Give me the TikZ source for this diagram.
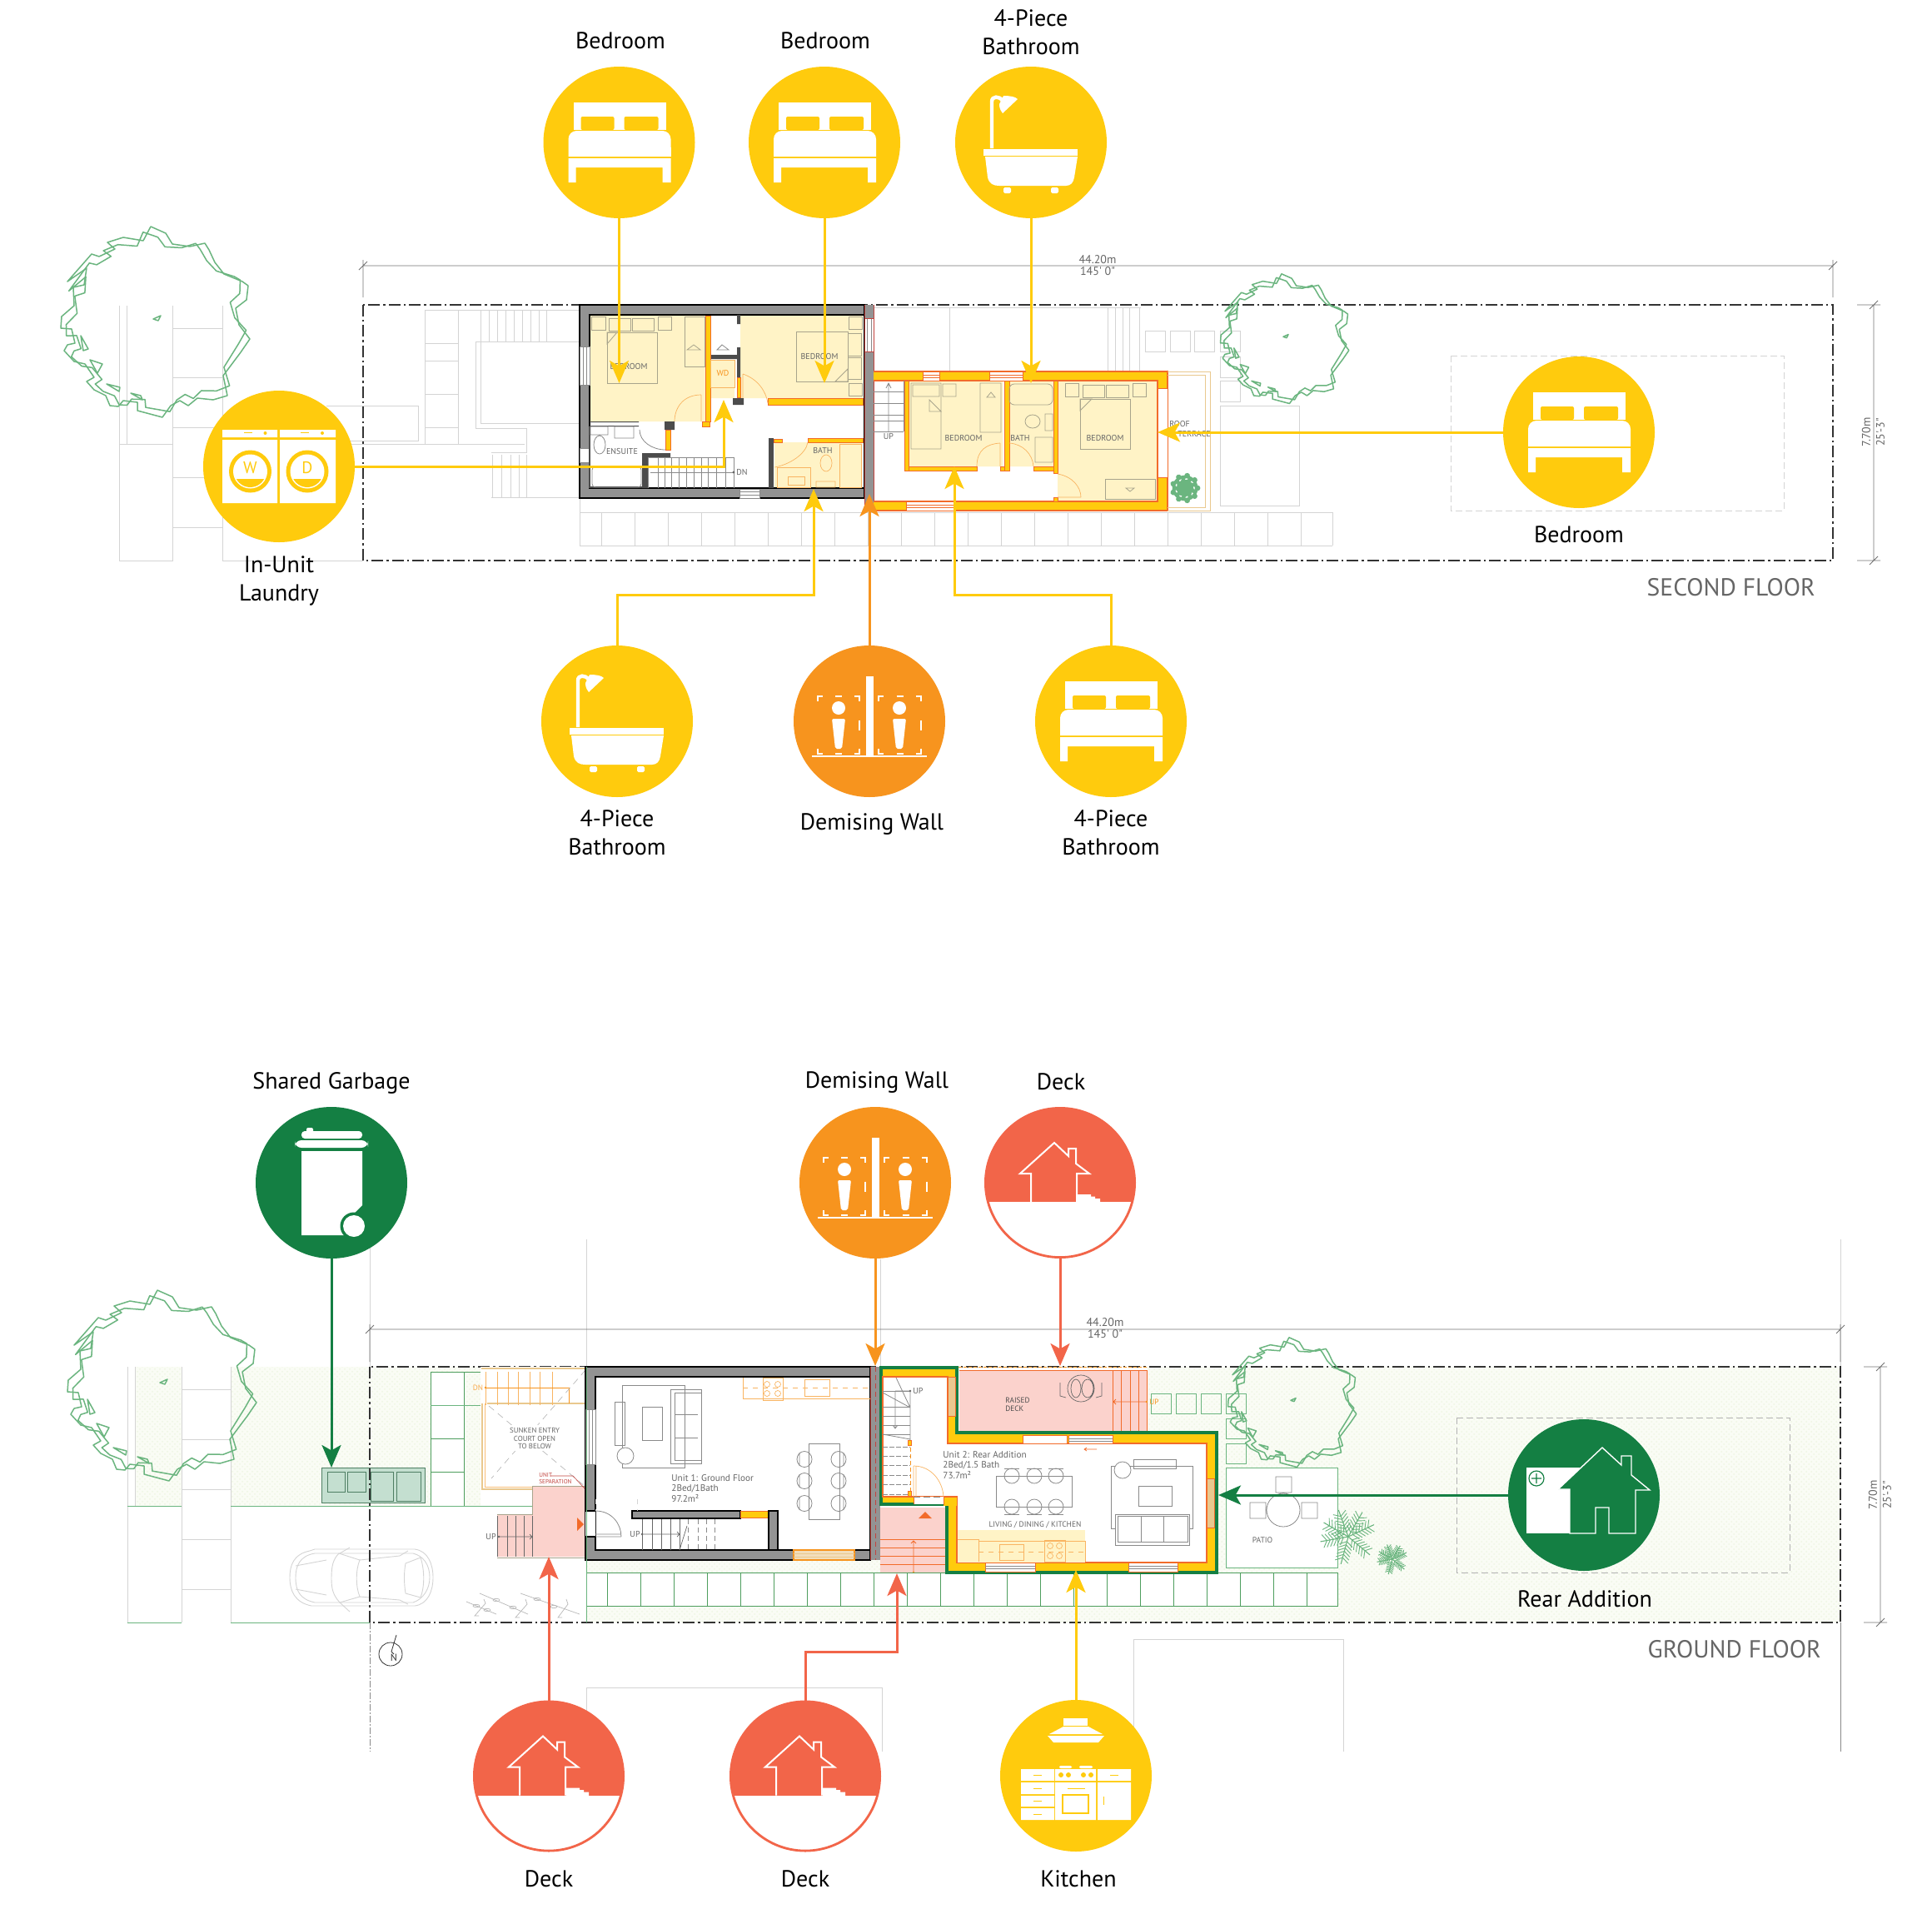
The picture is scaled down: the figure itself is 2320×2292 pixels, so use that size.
\documentclass[tikz,border=0pt]{standalone}
\usepackage{fontspec}
\setmainfont{PT Sans}
\newfontfamily\dinf{PT Sans}
\usetikzlibrary{arrows.meta,patterns}
\definecolor{cyel}{HTML}{FFCB0D}
\definecolor{cora}{HTML}{F7941E}
\definecolor{cdor}{HTML}{F26B2A}
\definecolor{ccor}{HTML}{F26549}
\definecolor{cgrn}{HTML}{147F43}
\definecolor{ctre}{HTML}{6BB57F}
\definecolor{cpav}{HTML}{4E9E5E}
\definecolor{cwal}{HTML}{939393}
\definecolor{cctx}{HTML}{D4D4D4}
\definecolor{cpal}{HTML}{FFF3C6}
\definecolor{cpnk}{HTML}{FBD2CC}
\definecolor{cgar}{HTML}{FAFCF5}
\definecolor{cgdt}{HTML}{EFF6E3}
\definecolor{cfur}{HTML}{A8A48C}
\definecolor{cgry}{HTML}{8A8A8A}
\definecolor{ctxt}{HTML}{666666}
\definecolor{cred}{HTML}{C1443F}
\definecolor{ctan}{HTML}{E9C88E}
\tikzset{
 lab/.style={inner sep=0pt,align=center,font=\fontsize{14}{17}\selectfont},
 ptext/.style={inner sep=0pt,align=left,text=ctxt,font=\dinf\fontsize{5}{5.6}\selectfont},
 dimt/.style={inner sep=0pt,align=center,text=ctxt,font=\dinf\fontsize{7}{7.6}\selectfont},
 flr/.style={inner sep=0pt,anchor=east,text=ctxt,font=\dinf\fontsize{14.8}{16}\selectfont},
 circ/.style={circle,minimum size=91pt,inner sep=0pt,fill=#1},
 ctx/.style={draw=cctx,line width=.45pt},
 plot/.style={draw=black!80,line width=.85pt,dash pattern=on 7pt off 2pt on 1.2pt off 2pt},
 dim/.style={draw=black!55,line width=.4pt},
 wall/.style={fill=cwal,draw=black,line width=.6pt},
 ywall/.style={fill=cyel,draw=cdor,line width=.5pt},
 win/.style={fill=white,draw=cgry,line width=.3pt},
 fur/.style={draw=cfur,line width=.4pt},
 gfur/.style={draw=cgry,line width=.4pt},
 ofur/.style={draw=cora!70,line width=.35pt},
 treel/.style={draw=ctre,line width=.75pt,line join=round},
 pav/.style={draw=cpav,line width=.5pt},
 arr/.style={draw=#1,line width=1.5pt,-{Stealth[length=13.5pt,width=11.5pt,inset=3.2pt]}},
}
\newcommand\treepath{(-6,-115)--(12,-107)--(20,-94)--(41,-91)--(59,-95)--(64,-87)--(71,-72)--(82,-58)--(104,-49)--(111,-44)--(109,-27)--(96,-17)--(100,3)--(113,20)--(102,36)--(81,64)--(86,88)--(69,93)--(50,91)--(39,100)--(29,94)--(18,100)--(8,114)--(-22,106)--(-22,96)--(-39,94)--(-45,101)--(-55,100)--(-60,88)--(-74,81)--(-83,71)--(-74,66)--(-85,50)--(-98,47)--(-110,34)--(-106,27)--(-97,25)--(-101,8)--(-114,7)--(-113,-7)--(-98,-20)--(-99,-42)--(-86,-45)--(-83,-65)--(-106,-49)--(-77,-82)--(-68,-79)--(-49,-88)--(-58,-96)--(-39,-102)--(-15,-98)--cycle}
\newcommand\treeshape[3]{\begin{scope}[shift={(#1,#2)},scale=#3]
 \draw[treel] \treepath;
 \draw[treel,rotate=5,scale=.95] \treepath;
 \draw[treel] (-3,-4)--(6,-8)--(3,-2)--cycle (-90,16)--(-81,32)--(-87,34)--cycle (-79,45)--(-64,50)--(-70,61)--cycle (-59,74)--(-43,78)--(-44,83)--cycle (-30,85)--(-18,88)--(-16,93)--cycle;
\end{scope}}
\newcommand\fern[3]{\begin{scope}[shift={(#1,#2)},scale=#3]
 \foreach \a in {-170,-105,-40,25,60,110,150}{\begin{scope}[rotate=\a]
  \draw[ctre,line width=.55pt] (0,0)--(34,0);
  \foreach \t in {6,10,...,28}{\draw[ctre,line width=.45pt] (\t,0)--(\t+5,8) (\t,0)--(\t+5,-8);}
 \end{scope}}
\end{scope}}
\newcommand\leafy[2]{\begin{scope}[shift={(#1,#2)}]
 \foreach \a in {0,40,...,320}{\fill[ctre,rotate=\a] (15,0) circle (3.4) (12,4) circle (2.8) (12,-4) circle (2.8) (7,2) circle (4);}
 \fill[ctre] (0,0) circle (5);
\end{scope}}
% icons
\newcommand\icoBed[1]{\begin{scope}[shift={(#1.center)}]
 \fill[white] (-55,-48) rectangle (56,-15);
 \fill[cyel,rounded corners=1pt] (-46,-31) rectangle (-6,-15) (6,-31) rectangle (47,-15);
 \fill[white,rounded corners=5pt] (-61,17)--(-61,-14)--(62,-14)--(62,17);
 \fill[white] (-61,6) rectangle (62,17);
 \fill[white] (-61,19) rectangle (62,30) (-61,30) rectangle (-52,48) (52,30) rectangle (62,48);
\end{scope}}
\newcommand\icoTub[1]{\begin{scope}[shift={(#1.center)}]
 \draw[white,line width=2.2pt] (-47,7)--(-47,-49) .. controls (-47,-56) and (-38,-56) .. (-34,-50);
 \fill[white] (-33,-56)..controls (-25,-56) and (-19,-55) ..(-16,-52)--(-34,-35)..controls (-38,-40) and (-38,-44) .. (-38,-46)--cycle;
 \fill[white] (-57,8) rectangle (56,16);
 \fill[white] (-55,17)--(-52,42)..controls (-50,50) and (-45,52) .. (-38,52)--(42,52)..controls (48,52) and (51,48) .. (52,42)--(56,17)--cycle;
 \fill[white,rounded corners=.8pt] (-33,54) rectangle (-24,61) (24,54) rectangle (33,61);
\end{scope}}
\newcommand\icoWash[1]{\begin{scope}[shift={(#1.center)}]
 \fill[white] (-68,-44) rectangle (-2,-35) (-68,-32) rectangle (-2,44) (1,-44) rectangle (68,-35) (1,-32) rectangle (68,44);
 \foreach \cx/\ltt in {-34.5/W,34/D}{
  \fill[cyel] (\cx,6) circle (25.5);
  \fill[white] (\cx,6) circle (20.5);
  \begin{scope}\clip (\cx,6) circle (19);
   \fill[cyel] (\cx-20,15) rectangle (\cx+20,28);
  \end{scope}
  \fill[cyel] (\cx-8,-41) rectangle (\cx+2,-39.6);
  \fill[cyel] (\cx+18,-40) circle (2);
  \node[inner sep=0pt,text=cyel,font=\fontsize{10}{10}\selectfont] (lt\ltt) at (\cx,2) {\ltt};
 }
\end{scope}}
\newcommand\dbox[4]{%
 \draw[white,line width=1.1pt] (#1,#2+6)--(#1,#2)--(#1+6,#2) (#3-6,#2)--(#3,#2)--(#3,#2+6) (#1,#4-6)--(#1,#4)--(#1+6,#4) (#3-6,#4)--(#3,#4)--(#3,#4-6)
 ({(#1+#3)/2-4},#2)--({(#1+#3)/2+4},#2) ({(#1+#3)/2-4},#4)--({(#1+#3)/2+4},#4) (#3,{(#2+#4)/2-6})--(#3,{(#2+#4)/2+6}) ;}
\newcommand\icoWall[1]{\begin{scope}[shift={(#1.center)}]
 \fill[white] (-4,-54) rectangle (5,42);
 \fill[white] (-69,41) rectangle (69,43);
 \foreach \cx in {-37,36}{
  \fill[white] (\cx,-16) circle (8);
  \fill[white,rounded corners=1pt] (\cx-8,-3)--(\cx+8,-3)--(\cx+4,33)--(\cx-4,33)--cycle;
 }
 \dbox{-62}{-30}{-12}{39}
 \dbox{11}{-30}{62}{39}
\end{scope}}
\newcommand\icoDeck[1]{\begin{scope}[shift={(#1.center)}]
 \begin{scope}\clip (0,0) circle (90);
  \fill[ccor] (-91,-91) rectangle (91,23);
 \end{scope}
 \draw[white,line width=1pt,line join=miter] (-35,23)--(-35,-11)--(-48,-11)--(-7,-48)--(10,-32)--(10,-41)--(19,-41)--(19,-23)--(35,-11)--(20,-11)--(20,23);
 \fill[white] (21,14)--(37,14)--(37,16.5)--(42,16.5)--(42,19)--(48,19)--(48,24)--(21,24)--cycle;
\end{scope}}
\newcommand\icoRear[1]{\begin{scope}[shift={(#1.center)}]
 \fill[white] (-69,-33) rectangle (-4,46);
 \fill[cgrn] (-17,46)--(-17,-7)--(-31,-7)--(22,-57)--(45,-36)--(45,-47)--(57,-47)--(57,-24)--(79,-6)--(62,-6)--(62,46)--(30,46)--(30,15)--(14,15)--(14,46)--cycle;
 \draw[white,line width=.7pt] (-17,46)--(-17,-7)--(-31,-7)--(22,-57)--(45,-36)--(45,-47)--(57,-47)--(57,-24)--(79,-6)--(62,-6)--(62,46)--(30,46)--(30,15)--(14,15)--(14,46)--cycle;
 \draw[cgrn,line width=.6pt] (-57,-20) circle (9) (-57,-26)--(-57,-14) (-63,-20)--(-51,-20);
\end{scope}}
\newcommand\icoBin[1]{\begin{scope}[shift={(#1.center)}]
 \fill[white,rounded corners=1pt] (-30,-66) rectangle (-22,-60);
 \fill[white,rounded corners=2pt] (-36,-62) rectangle (37,-53);
 \fill[white,rounded corners=4pt] (-44,-51) rectangle (44,-42);
 \fill[white] (-36,-38)--(37,-38)--(37,27)--(24,40)--(24,63)--(-36,63)--cycle;
 \fill[cgrn] (27,52) circle (16.5);
 \fill[white] (27,52) circle (13);
\end{scope}}
\newcommand\icoKit[1]{\begin{scope}[shift={(#1.center)}]
 \fill[white] (-15,-69) rectangle (14,-60);
 \fill[white] (-15,-59)--(15,-59)--(32,-50)--(-32,-50)--cycle;
 \fill[white] (-34,-48)--(34,-48)--(27,-40)--(-27,-40)--cycle;
 \fill[white] (-66,-8) rectangle (-26,6) (-66,8) rectangle (-26,22) (-66,24) rectangle (-26,37) (-66,39) rectangle (-26,53);
 \fill[white] (-25,-8) rectangle (24,6) (-25,8) rectangle (24,53);
 \fill[white] (26,-8) rectangle (66,6) (26,8) rectangle (66,53);
 \fill[white,rounded corners=1pt] (-20,-12) rectangle (-5,-9) (4,-12) rectangle (20,-9);
 \foreach \yy in {-1,15,30,46}{\fill[cyel] (-51,\yy-.4) rectangle (-41,\yy+.4);}
 \foreach \xx in {-18,-9,9,18}{\fill[cyel] (\xx,-1) circle (3);}
 \fill[cyel] (-10,14.6) rectangle (11,15.4);
 \draw[cyel,line width=1pt] (-16,23) rectangle (15,45);
 \fill[cyel] (41,-1.4) rectangle (51,-.6);
 \fill[cyel] (32.6,25) rectangle (33.4,35);
\end{scope}}
\newcommand\stairsV[6]{\foreach \xx in {#1}{\draw[#6] (\xx,#2)--(\xx,#3);}}
\newcommand\stairsH[6]{\foreach \yy in {#1}{\draw[#6] (#2,\yy)--(#3,\yy);}}
\begin{document}
\begin{tikzpicture}[x=.5pt,y=-.5pt]
\useasboundingbox (0,0) rectangle (2320,2292);
\fill[white] (0,0) rectangle (2320,2292);
%%%%%%%%%%%%%%%%%%% SECOND FLOOR
% context, left
\draw[ctx] (143,367)--(143,673)--(207,673)--(207,367) (152,367)--(152,533) (143,533)--(207,533);
\draw[ctx] (267,367)--(267,673)--(436,673);
\stairsH{394,453,513,573,633}{207}{267}{}{}{ctx}
\draw[ctx] (392,487)--(502,487)--(502,529)--(410,529);
\draw[ctx] (267,533)--(630,533) (267,529)--(392,529);
\draw[ctx] (510,372)--(510,533) (550,372)--(550,533) (510,372)--(696,372);
\stairsH{412,433,473,513}{510}{550}{}{}{ctx}
\stairsV{577,587,597,607,617,627,637,647,656}{372}{410}{}{}{ctx}
\draw[ctx] (696,410)--(571,410)--(571,514)--(632,514)--(632,543)--(590,543) (577,410)--(577,508)--(696,508);
\stairsV{591,602,613,623,632}{546}{597}{}{}{ctx}
\draw[ctx] (590,597)--(696,597);
% sidewalk
\draw[ctx] (696,615)--(1600,615) (696,655)--(1600,655) (696,598)--(696,655) (1600,615)--(1600,655);
\foreach \xx in {722,762,...,1590}{\draw[ctx] (\xx,615)--(\xx,655);}
% context right
\draw[ctx] (1049,369)--(1370,369) (1140,369)--(1140,446);
\stairsV{1330,1339,1348,1356,1368}{369}{446}{}{}{ctx}
\foreach \xx in {1375,1405,1434,1465}{\draw[ctx] (\xx,397) rectangle +(24,25);}
\draw[ctx] (1465,428) rectangle +(24,25) (1465,457) rectangle +(24,25) (1465,487) rectangle (1560,607);
\draw[ctx,dashed,dash pattern=on 4pt off 2pt] (1742,427) rectangle (2142,613);
% plot boundary
\draw[plot] (436,366) rectangle (2201,673);
\draw[dim] (436,319)--(2201,319) (436,312)--(436,357) (2201,312)--(2201,357) (431,324)--(441,314) (2196,324)--(2206,314);
\draw[dim] (2250,366)--(2250,673) (2230,366)--(2258,366) (2230,673)--(2258,673) (2245,371)--(2255,361) (2245,678)--(2255,668);
\node[dimt] (d1) at (1318,312) {44.20m};
\node[dimt] (d2) at (1318,326) {145' 0"};
\node[dimt,rotate=90] (d3) at (2241,519) {7.70m};
\node[dimt,rotate=90] (d4) at (2258,519) {25'-3"};
\node[flr] (sf) at (2180,705) {SECOND FLOOR};
% left unit
\fill[cpal] (708,379) rectangle (847,506) (889,379) rectangle (1036,478) (853,432) rectangle (882,478) (930,531) rectangle (1035,585);
\fill[wall,even odd rule] (696,366) rectangle (1038,598) (708,378) rectangle (1038,586);
\fill[white] (696,416) rectangle (708,462) (696,538) rectangle (708,555) (888,587) rectangle (912,598);
\draw[win] (696,416) rectangle (708,462) (696,538) rectangle (708,555) (888,587) rectangle (912,598) (888,590)--(912,590) (888,594)--(912,594) (700,416)--(700,462) (704,416)--(704,462);
% closets, walls
\draw[ywall] (847,379) rectangle (853,506) (843,506) rectangle (852,512) (885,453) rectangle (889,477);
\fill[black!70] (885,378) rectangle (889,389) (885,417) rectangle (889,453) (854,426) rectangle (885,431) (880,478) rectangle (893,486);
\draw[ywall] (922,478) rectangle (1036,486);
\fill[black!70] (708,506) rectangle (767,507) (708,511) rectangle (767,512) (798,506) rectangle (810,516);
\draw[ywall] (799,516) rectangle (805,540);
\fill[black!70] (771,549) rectangle (778,586) (771,544) rectangle (805,549);
\fill[black!70] (923,526) rectangle (929,586);
\draw[ywall] (970,526) rectangle (1036,531) (929,527) rectangle (939,531);
\draw[black!70,line width=.6pt] (708,512)--(708,586) (708,585)--(771,585);
% bedroom 1 furniture
\draw[fur] (729,399) rectangle (789,460) (731,382) rectangle (757,397) (759,382) rectangle (785,397) (710,380) rectangle (727,396) (790,380) rectangle (806,396) (822,380) rectangle (846,440);
\draw[fur] (729,399)--(741,399)--(729,413)--cycle;
\draw[fur] (833,414)--(825,420)--(841,420)--cycle;
\node[ptext,anchor=center] (tb1) at (755,440) {BEDROOM};
\draw[fur] (956,398) rectangle (1018,458) (1018,400) rectangle (1034,427) (1018,429) rectangle (1034,455) (1019,380) rectangle (1035,395) (1019,460) rectangle (1035,475);
\draw[fur] (1018,443)--(1003,458)--(1018,458)--cycle;
\node[ptext,anchor=center] (tb2) at (984,428) {BEDROOM};
\draw[gfur] (867,414)--(861,420)--(875,420)--cycle;
\node[inner sep=0pt,text=cora,font=\dinf\fontsize{5}{5}\selectfont] (twd) at (868,448) {WD};
\draw[ofur] (853,432) rectangle (882,465);
\draw[ofur] (842,474) .. controls (820,474) and (810,490) .. (810,506) (842,474)--(842,506);
\draw[ofur] (892,449) .. controls (910,455) and (920,470) .. (922,484) (892,449)--(892,478);
% ensuite
\draw[gfur,rounded corners=2pt] (711,560) rectangle (770,585);
\draw[gfur] (720,534) ellipse (7 and 11) (709,512) rectangle (730,522) (738,512) rectangle (761,526);
\node[ptext,anchor=center] (te) at (747,542) {ENSUITE};
\draw[gfur] (768,516) .. controls (768,530) and (783,540) .. (799,540);
% stairs left
\stairsV{778,790,798,806,815,824,833,842,850,860,871,881}{549}{586}{}{}{gfur}
\draw[gfur] (778,549)--(881,549) (781,567)--(881,567);
\fill[black!60] (881,567) circle (1.6);
\node[ptext,anchor=west] (dn1) at (884,567) {DN};
% bath
\node[ptext,anchor=center] (tb3) at (988,541) {BATH};
\draw[ofur] (933,561) rectangle (973,585) (1008,533) rectangle (1034,585) (946,572) rectangle (966,582);
\draw[ofur] (992,556) ellipse (7 and 10) (980,578) rectangle (1003,585) (930,561) .. controls (948,558) and (968,545) .. (970,531);
% party wall
\fill[cwal] (1038,366) rectangle (1049,613);
\fill[white] (1038,382) rectangle (1049,422);
\draw[cgry,line width=.3pt] (1041,382)--(1041,422) (1046,382)--(1046,422);
\draw[cred,line width=.4pt] (1038,366)--(1038,613) (1049,366)--(1049,613);
\draw[cred,line width=.3pt] (1038,382)--(1049,382) (1038,422)--(1049,422);
% right unit
\fill[cpal] (1091,457) rectangle (1204,560) (1212,457) rectangle (1265,560) (1270,457) rectangle (1390,602);
\fill[cyel] (1049,446) rectangle (1402,457) (1049,602) rectangle (1402,613) (1390,457) rectangle (1402,466) (1390,573) rectangle (1402,602);
\draw[cdor,line width=.6pt] (1049,446)--(1402,446)--(1402,613)--(1049,613) (1049,457)--(1390,457)--(1390,602)--(1049,602);
\fill[white] (1108,446) rectangle (1128,457) (1188,446) rectangle (1228,457) (1088,602) rectangle (1145,613) (1390,466) rectangle (1402,573);
\draw[cdor,line width=.4pt] (1108,446) rectangle (1128,457) (1188,446) rectangle (1228,457) (1088,602) rectangle (1145,613) (1390,466) rectangle (1402,573);
\foreach \yy in {450,453}{\draw[cdor,line width=.3pt] (1108,\yy)--(1128,\yy) (1188,\yy)--(1228,\yy);}
\foreach \yy in {606,609}{\draw[cdor,line width=.3pt] (1088,\yy)--(1145,\yy);}
\draw[ctan,line width=.5pt] (1402,446)--(1453,446)--(1453,613)--(1402,613) (1402,450)--(1447,450)--(1447,609)--(1402,609);
\draw[ywall] (1086,457) rectangle (1091,565) (1091,560) rectangle (1173,565) (1206,457) rectangle (1212,565) (1201,560) rectangle (1206,565) (1241,560) rectangle (1265,565) (1265,457) rectangle (1270,568) (1265,597) rectangle (1270,602);
\draw[fur] (1094,460) rectangle (1130,539) (1096,462) rectangle (1128,476) (1132,461) rectangle (1148,476) (1177,460) rectangle (1202,519) (1116,480)--(1130,494)--(1116,494)--cycle;
\draw[fur] (1190,471)--(1185,477)--(1195,477)--cycle;
\draw[fur,rounded corners=3pt] (1212,461) rectangle (1264,486);
\draw[fur] (1240,506) ellipse (9 and 8) (1255,497) rectangle (1264,517) (1243,525) rectangle (1264,555);
\draw[fur] (1297,479) rectangle (1357,539) (1300,462) rectangle (1326,477) (1328,462) rectangle (1355,477) (1279,460) rectangle (1295,476) (1360,460) rectangle (1376,476) (1327,575) rectangle (1387,599);
\draw[fur] (1297,479)--(1311,479)--(1297,493)--cycle;
\draw[fur] (1357,590)--(1352,586)--(1362,586)--cycle;
\node[ptext,anchor=center] (ts1) at (1157,526) {BEDROOM};
\node[ptext,anchor=center] (ts2) at (1225,526) {BATH};
\node[ptext,anchor=center] (ts3) at (1327,526) {BEDROOM};
\draw[ofur] (1173,560) .. controls (1173,540) and (1185,533) .. (1201,532) (1201,532)--(1201,560);
\draw[ofur] (1212,532) .. controls (1228,533) and (1240,545) .. (1241,560);
\draw[ofur] (1270,569) .. controls (1288,572) and (1298,585) .. (1298,597) (1270,597)--(1298,597);
\stairsH{470,484,498,505,518}{1049}{1085}{}{}{gfur}
\draw[gfur] (1067,518)--(1067,460) (1064,466)--(1067,460)--(1070,466);
\draw[gfur] (1085,457)--(1085,518);
\node[ptext,anchor=center] (up1) at (1067,524) {UP};
\node[ptext,anchor=west,text=ctxt] (rt) at (1404,515) {ROOF\\\hspace{5pt}TERRACE};
\leafy{1423}{586}
%%%%%%%%%%%%%%%%%%% GROUND FLOOR
% garden
\fill[cgar] (162,1641) rectangle (218,1808) (277,1641) rectangle (577,1808) (1377,1641) rectangle (2210,1948) (703,1873) rectangle (1135,1888) (703,1928) rectangle (2210,1948) (1463,1888) rectangle (2210,1928);
\fill[pattern=crosshatch dots,pattern color=cgdt] (162,1641) rectangle (218,1808) (277,1641) rectangle (577,1808) (1377,1641) rectangle (2210,1948) (703,1873) rectangle (1135,1888) (703,1928) rectangle (2210,1948);
% verticals
\draw[ctx] (444,1488)--(444,1641) (704,1488)--(704,1641) (2210,1488)--(2210,1641) (1057,1512)--(1057,1641);
\draw[cgry,line width=.35pt,dash pattern=on 4pt off 1pt on 1pt off 1pt] (444,1948)--(444,2103);
\draw[cgry,line width=.35pt] (2210,1948)--(2210,2103);
\draw[ctx] (704,2103)--(704,2026)--(1059,2026)--(1059,2103) (1361,2103)--(1361,1968)--(1613,1968)--(1613,2103);
% left context
\draw[ctx] (153,1641)--(153,1948) (162,1641)--(162,1808) (218,1641)--(218,1948) (277,1641)--(277,1948);
\stairsH{1668,1728,1788,1848,1908}{218}{277}{}{}{ctx}
\draw[draw=ctre,line width=.5pt] (153,1808)--(218,1808) (277,1808)--(703,1808) (153,1948)--(218,1948) (277,1948)--(444,1948);
\fill[white] (517.5,1648) rectangle (556.5,1807.5);
\draw[pav] (517,1647)--(577,1647) (517,1647)--(517,1808) (557,1647)--(557,1808);
\draw[draw=ctre,line width=.5pt] (517,1687)--(577,1687);
\draw[pav] (517,1727)--(557,1727) (517,1767)--(557,1767);
% garbage box
\fill[fill=cgrn!25,draw=cgrn!45!gray,line width=.5pt] (386,1762) rectangle (510,1804);
\draw[cgrn!45!gray,line width=.4pt] (393,1767) rectangle (414,1791) (417,1767) rectangle (439,1791) (445,1767) rectangle (472,1802) (476,1767) rectangle (505,1802);
% car
\draw[ctx] (372,1862) .. controls (352,1866) and (348,1880) .. (348,1894) .. controls (348,1910) and (354,1924) .. (374,1928) -- (498,1928) .. controls (514,1926) and (520,1910) .. (520,1894) .. controls (520,1878) and (514,1862) .. (498,1860) -- (378,1860) -- cycle;
\draw[ctx] (378,1865) .. controls (360,1868) and (355,1880) .. (355,1894) .. controls (355,1910) and (360,1920) .. (378,1924) -- (496,1924) .. controls (508,1920) and (516,1908) .. (516,1894) .. controls (516,1878) and (508,1868) .. (496,1865) -- cycle;
\draw[ctx] (398,1895) .. controls (398,1880) and (400,1872) .. (407,1865) -- (432,1873) .. controls (427,1885) and (427,1905) .. (432,1917) -- (408,1924) .. controls (400,1915) and (398,1908) .. (398,1895);
\draw[ctx] (487,1877) -- (505,1870) .. controls (510,1885) and (510,1905) .. (505,1918) -- (487,1913) .. controls (485,1900) and (485,1888) .. (487,1877);
\draw[ctx] (355,1880)--(392,1873) (355,1908)--(392,1915) (408,1865)--(420,1858) (408,1924)--(420,1935) (432,1873)--(480,1868)--(490,1862) (432,1917)--(480,1921)--(490,1926);
% north
\draw[black!80,line width=.4pt] (469,1986) circle (14) (476,1963)--(470,1983)--(473,1986);
\node[inner sep=0pt,text=black!80,font=\dinf\fontsize{6}{6}\selectfont] (ntext) at (473,1990) {N};
% bikes
\draw[gray!55,line width=.35pt] (576,1913)--(634,1938) (631,1920)--(633,1926)--(619,1942)--(624,1942) (625,1913)--(696,1938) (680,1920)--(682,1926)--(670,1942)--(675,1942) (560,1923)--(596,1938) (581,1920)--(583,1925)--(570,1940)--(575,1940);
\foreach \xx/\yy in {596/1921,616/1930,645/1920,665/1929,572/1928,585/1933}{\draw[gray!55,line width=.35pt] (\xx,\yy) ellipse (4 and 1.7);}
% plot
\draw[plot] (444,1641) rectangle (2210,1948);
\draw[dim] (444,1596)--(2210,1596) (444,1590)--(444,1635) (2210,1590)--(2210,1635) (439,1601)--(449,1591) (2205,1601)--(2215,1591);
\draw[dim] (2258,1641)--(2258,1948) (2238,1641)--(2266,1641) (2238,1948)--(2266,1948) (2253,1646)--(2263,1636) (2253,1953)--(2263,1943);
\node[dimt] (g1) at (1327,1588) {44.20m};
\node[dimt] (g2) at (1327,1602) {145' 0"};
\node[dimt,rotate=90] (g3) at (2249,1795) {7.70m};
\node[dimt,rotate=90] (g4) at (2266,1795) {25'-3"};
\node[flr] (gf) at (2187,1980) {GROUND FLOOR};
\draw[ctx,dash pattern=on 4pt off 2pt,draw=gray!60] (1749,1702) rectangle (2149,1888);
% squares
\foreach \xx in {1382,1412,1442,1472}{\draw[draw=ctre,line width=.5pt] (\xx,1673) rectangle +(24.5,24);}
\draw[draw=ctre,line width=.5pt] (1472,1703) rectangle +(24,24) (1472,1733) rectangle +(24,24);
% sunken court
\fill[white] (577,1641) rectangle (703,1808);
\draw[ctan,line width=.9pt] (703,1685)--(585,1685) (579,1685)--(579,1788)--(639,1788);
\draw[cora!60,line width=.4pt] (582,1685)--(582,1785)--(639,1785);
\draw[ctan,line width=1pt] (578,1643)--(703,1643);
\stairsV{583,597,610,622,636,648,663}{1647}{1687}{}{}{cora!70,line width=.4pt}
\draw[cora,line width=.4pt] (583,1666)--(683,1666)--(683,1685);
\fill[cora] (583,1666) circle (1.4);
\node[inner sep=0pt,text=cora!80,font=\dinf\fontsize{4.6}{5}\selectfont] (dn2) at (574,1666) {DN};
\draw[gray!60,line width=.3pt,dash pattern=on 4pt off 3pt] (587,1688)--(703,1785) (703,1645)--(590,1775);
\fill[white] (600,1711) rectangle (684,1742);
\node[ptext,align=center,anchor=center,font=\dinf\fontsize{4.4}{4.9}\selectfont] (sk) at (642,1727) {SUNKEN ENTRY\\COURT OPEN\\TO BELOW};
\fill[cpnk] (639,1784) rectangle (703,1869) (597,1818) rectangle (639,1869);
\draw[cfur,line width=.5pt] (597,1818)--(639,1818)--(639,1784)--(703,1784) (597,1870)--(703,1870);
\stairsV{597,609,619,629,639}{1820}{1869}{}{}{black!60,line width=.35pt}
\draw[black!60,line width=.35pt] (599,1845)--(639,1845) (636,1842)--(639,1845)--(636,1848);
\fill[black!60] (599,1845) circle (1.3);
\node[ptext,anchor=east] (up2) at (596,1845) {UP};
\fill[cdor] (693,1822)--(701,1830)--(693,1838)--cycle;
\node[inner sep=0pt,align=left,text=cred,font=\dinf\fontsize{3.6}{4}\selectfont,anchor=west] (us) at (647,1775) {UNIT\\SEPARATION};
\draw[cred,line width=.3pt] (661,1772)--(688,1772)--(702,1787);
% unit 1 walls
\path[wall,even odd rule] (703,1641) rectangle (1045,1873) (715,1653) rectangle (1045,1861);
\fill[white] (703,1692) rectangle (715,1758) (703,1814) rectangle (715,1845);
\draw[cgry,line width=.3pt] (703,1692) rectangle (715,1758) (707,1692)--(707,1758) (711,1692)--(711,1758);
\draw[black,line width=.6pt] (703,1814)--(715,1814) (703,1845)--(715,1845);
\draw[wall] (759,1814) rectangle (889,1823);
\draw[ywall] (889,1814) rectangle (923,1822);
\draw[wall] (923,1814)--(934,1814)--(934,1861)--(923,1861)--cycle;
\fill[ctan!60] (953,1861) rectangle (1026,1873);
\draw[cora,line width=.7pt] (953,1861) rectangle (1026,1873);
\draw[ctan,line width=.3pt] (953,1865)--(1026,1865) (953,1869)--(1026,1869);
\draw[gfur] (715,1814) .. controls (735,1814) and (746,1830) .. (746,1845) (715,1845)--(746,1845) (715,1842)--(746,1842);
\draw[cctx,line width=.4pt,dashed] (715,1800)--(715,1814) (765,1800)--(765,1814);
\stairsV{771,783,794,805,816}{1824}{1861}{}{}{black!60,line width=.35pt}
\draw[cgry,line width=.35pt,dash pattern=on 3pt off 2pt] (826,1824)--(826,1861) (838,1824)--(838,1861) (848,1824)--(848,1861) (858,1824)--(858,1861);
\draw[black!60,line width=.35pt] (771,1842)--(816,1842) (813,1839)--(816,1842)--(813,1845) (825,1832)--(816,1861);
\fill[black!60] (771,1842) circle (1.3);
\node[ptext,anchor=east] (up3) at (769,1842) {UP};
% unit 1 furniture
\draw[gfur] (747,1663) rectangle (822,1762) (738,1683) rectangle (750,1735) (771,1689) rectangle (795,1729) (805,1668) rectangle (842,1757) (810,1672) rectangle (842,1753) (810,1698)--(838,1698) (810,1726)--(838,1726);
\fill[white] (751,1748) circle (10);
\draw[gfur] (751,1748) circle (10);
\draw[gfur] (971,1733) rectangle (1008,1824);
\foreach \yy in {1752,1778,1805}{\draw[gfur] (966,\yy) ellipse (9 and 9.5) (1007,\yy) ellipse (9 and 9.5) (960,\yy-8)--(960,\yy+8) (1013,\yy-8)--(1013,\yy+8);}
\node[ptext,anchor=west,font=\dinf\fontsize{5.6}{6.4}\selectfont] (u1) at (806,1787) {Unit 1: Ground Floor\\2Bed/1Bath\\97.2m²};
% unit1 kitchen
\draw[ofur] (892,1654)--(892,1679)--(1045,1679) (916,1654) rectangle (940,1681) (966,1656) rectangle (996,1676);
\draw[ofur] (921,1662) circle (3.5) (934,1662) circle (3.5) (921,1673) circle (3.5) (934,1673) circle (3.5);
\draw[ofur,dash pattern=on 3pt off 3pt] (892,1666)--(1045,1666);
% party wall
\fill[cwal] (1045,1641) rectangle (1057,1873);
\draw[cred,line width=.5pt] (1045,1641)--(1045,1873);
\draw[cred,line width=.35pt,dash pattern=on 3pt off 2pt] (1051,1641)--(1051,1873);
% pink decks
\fill[cpnk] (1152,1645) rectangle (1377,1718);
\draw[cdor,line width=.45pt] (1152,1645)--(1377,1645)--(1377,1718) (1336,1645)--(1336,1718) (1346,1645)--(1346,1718) (1357,1645)--(1357,1718) (1367,1645)--(1367,1718);
\draw[cora,line width=.5pt,dash pattern=on 2pt off 1pt] (1151,1641)--(1377,1641);
\draw[cdor,line width=.4pt] (1337,1683)--(1377,1683) (1340,1680)--(1337,1683)--(1340,1686);
\fill[cora] (1377,1683) circle (1.3);
\node[inner sep=0pt,text=cora,font=\dinf\fontsize{4.6}{5}\selectfont,anchor=west] (up4) at (1380,1683) {UP};
\node[ptext,anchor=west,text=black!70,font=\dinf\fontsize{4.6}{5.2}\selectfont] (rd) at (1207,1686) {RAISED\\DECK};
\draw[black!60,line width=.35pt] (1298,1667) circle (16) (1292,1667) ellipse (6 and 11) (1306,1667) ellipse (7 and 11) (1273,1660)--(1273,1676)--(1280,1678) (1323,1660)--(1323,1676)--(1316,1678);
\fill[cpnk] (1057,1810) rectangle (1135,1888);
\stairsH{1848,1858,1868,1878,1888}{1057}{1135}{}{}{cdor,line width=.4pt}
\draw[cdor,line width=.4pt] (1097,1850)--(1097,1888) (1094,1853)--(1097,1850)--(1100,1853);
\fill[cora] (1097,1888) circle (1.3);
\node[inner sep=0pt,text=cora,font=\dinf\fontsize{4.6}{5}\selectfont] (up5) at (1097,1895) {UP};
\fill[cdor] (1103,1823)--(1111,1815)--(1119,1823)--cycle;
% pavers
\fill[white] (704,1888) rectangle (1606,1928);
\draw[pav] (704,1888)--(1135,1888) (1463,1888)--(1606,1888)--(1606,1928)--(704,1928)--(704,1888);
\foreach \xx in {729,769,...,1600}{\draw[pav] (\xx,1888)--(\xx,1928);}
\draw[draw=ctre,line width=.5pt] (704,1641)--(704,1948);
% unit 2
\path[fill=cyel,draw=cgrn,line width=2.2pt,line join=miter] (1058,1642)--(1149,1642)--(1149,1720)--(1461,1720)--(1461,1888)--(1137,1888)--(1137,1806)--(1058,1806)--cycle;
\path[fill=white,draw=cdor,line width=.6pt] (1060,1653)--(1138,1653)--(1138,1733)--(1449,1733)--(1449,1876)--(1149,1876)--(1149,1797)--(1060,1797)--cycle;
\fill[white] (1097,1797) rectangle (1133,1806) ;
\fill[cyel] (1133,1797) rectangle (1149,1808);
\draw[cdor,line width=.5pt] (1133,1797)--(1149,1797) (1133,1797)--(1133,1807) (1097,1797)--(1097,1806);
% windows unit 2
\fill[ctan] (1138.5,1653) rectangle (1147,1700);
\draw[cdor,line width=.4pt] (1138,1653) rectangle (1147,1700);
\fill[white] (1228,1723) rectangle (1281,1733) (1283,1723) rectangle (1336,1733) (1183,1876) rectangle (1243,1887) (1355,1876) rectangle (1414,1887);
\draw[cdor,line width=.4pt] (1228,1723) rectangle (1281,1733) (1283,1723) rectangle (1336,1733) (1183,1876) rectangle (1243,1887) (1355,1876) rectangle (1414,1887);
\foreach \yy in {1727,1730}{\draw[cgry,line width=.25pt] (1283,\yy)--(1336,\yy);}
\foreach \yy in {1880,1883}{\draw[cgry,line width=.25pt] (1183,\yy)--(1243,\yy) (1355,\yy)--(1414,\yy);}
\fill[ctan] (1449.5,1775) rectangle (1458,1834);
\draw[cdor,line width=.4pt] (1449,1775) rectangle (1458,1834);
% stairs unit 2
\stairsH{1670,1689,1700,1711,1722}{1060}{1093}{}{}{gfur}
\draw[gfur] (1093,1670)--(1093,1730) (1075,1670)--(1093,1670) (1075,1670)--(1075,1715) (1072,1711)--(1075,1715)--(1078,1711) (1076,1654)--(1093,1690) (1060,1672)--(1093,1690) (1060,1722)--(1093,1728);
\fill[black!60] (1093,1670) circle (1.3);
\node[ptext,anchor=west] (up6) at (1096,1670) {UP};
\foreach \yy in {1737,1748,1759,1771,1782,1794}{\draw[gfur,dash pattern=on 3pt off 1pt] (1060,\yy)--(1093,\yy);}
\draw[cora,line width=.4pt,dash pattern=on 2.5pt off 1.5pt] (1093,1730)--(1093,1790);
\fill[cyel] (1090,1729) rectangle (1094,1735) (1090,1790) rectangle (1094,1796);
\draw[cdor,line width=.4pt] (1090,1729) rectangle (1094,1735) (1090,1790) rectangle (1094,1796);
\draw[ofur] (1097,1760) .. controls (1118,1760) and (1132,1778) .. (1133,1797) (1097,1760)--(1097,1797) (1100,1760)--(1100,1797);
\draw[cgry,line width=.3pt,dash pattern=on 4pt off 2pt] (1097,1797)--(1133,1797);
\node[ptext,anchor=west,font=\dinf\fontsize{5.6}{6.4}\selectfont] (u2) at (1132,1759) {Unit 2: Rear Addition\\2Bed/1.5 Bath\\73.7m²};
% kitchen unit 2
\fill[cpal] (1150,1837) rectangle (1303,1875.5);
\draw[ofur] (1150,1848)--(1175,1848)--(1175,1875) (1175,1850)--(1303,1850)--(1303,1875) (1200,1854) rectangle (1229,1873) (1254,1849) rectangle (1279,1875);
\draw[ofur,dash pattern=on 3pt off 3pt] (1175,1863)--(1303,1863);
\draw[ofur] (1261,1856) circle (3.5) (1272,1856) circle (3.5) (1261,1868) circle (3.5) (1272,1868) circle (3.5);
% dining/living unit 2
\foreach \xx in {1215,1242,1268}{\draw[gfur,fill=white] (\xx,1772) ellipse (9 and 9) (\xx,1809) ellipse (9 and 9); \draw[gfur] (\xx-9,1763)--(\xx+9,1763) (\xx-9,1818)--(\xx+9,1818);}
\draw[gfur] (1196,1772) rectangle (1287,1809);
\node[ptext,anchor=center,font=\dinf\fontsize{4.7}{5}\selectfont] (ldk) at (1243,1831) {LIVING / DINING / KITCHEN};
\draw[gfur] (1334,1760) rectangle (1432,1835) (1361,1752) rectangle (1412,1763) (1367,1784) rectangle (1407,1808);
\fill[white] (1339,1818) rectangle (1428,1855);
\draw[gfur] (1339,1818) rectangle (1428,1855) (1342,1820) rectangle (1426,1851) (1370,1820)--(1370,1851) (1397,1820)--(1397,1851);
\fill[white] (1348,1765) circle (10);
\draw[gfur] (1348,1765) circle (10);
\draw[cdor,line width=.35pt] (1302,1740)--(1317,1740) (1305,1738)--(1302,1740)--(1305,1742);
% patio
\fill[white] (1472,1762) rectangle (1606,1882);
\draw[draw=ctre,line width=.5pt] (1472,1762) rectangle (1606,1882);
\draw[gfur] (1541,1813) circle (20) (1532,1773) rectangle (1551,1792) (1501,1804) rectangle (1520,1823) (1563,1804) rectangle (1582,1823);
\node[ptext,anchor=center,font=\dinf\fontsize{4.8}{5}\selectfont] (pt) at (1516,1849) {PATIO};
\fern{1619}{1845}{1}
\fern{1672}{1872}{.55}
% trees
\treeshape{187}{387}{1}
\treeshape{1543}{407}{.68}
\treeshape{195}{1664}{1}
\treeshape{1552}{1684}{.68}
%%%%%%%%%%%%%%%%%%% CIRCLES
\node[circ=cyel] (bedA) at (743.5,171) {};
\node[circ=cyel] (bedB) at (990,171) {};
\node[circ=cyel] (tubA) at (1238,171) {};
\node[circ=cyel] (wash) at (335,560) {};
\node[circ=cyel] (bedR) at (1896,519) {};
\node[circ=cyel] (tubB) at (741,866) {};
\node[circ=cora] (wallA) at (1044,866) {};
\node[circ=cyel] (bedC) at (1334,866) {};
\node[circ=cgrn] (bin) at (398,1420) {};
\node[circ=cora] (wallB) at (1051,1420) {};
\node[circle,inner sep=0pt,fill=white,draw=ccor,line width=1.4pt,minimum size=89.6pt] (deckA) at (1273,1420) {};
\node[circ=cgrn] (rear) at (1902,1795) {};
\node[circle,inner sep=0pt,fill=white,draw=ccor,line width=1.4pt,minimum size=89.6pt] (deckB) at (659,2132.5) {};
\node[circle,inner sep=0pt,fill=white,draw=ccor,line width=1.4pt,minimum size=89.6pt] (deckC) at (967,2132.5) {};
\node[circ=cyel] (kit) at (1292,2132) {};
\icoBed{bedA}\icoBed{bedB}\icoBed{bedR}\icoBed{bedC}
\icoTub{tubA}\icoTub{tubB}
\icoWash{wash}
\icoWall{wallA}\icoWall{wallB}
\icoDeck{deckA}\icoDeck{deckB}\icoDeck{deckC}
\icoBin{bin}\icoRear{rear}\icoKit{kit}
% labels
\node[lab] (lA) at (745,49) {Bedroom};
\node[lab] (lB) at (991,49) {Bedroom};
\node[lab] (lC) at (1238,39) {4-Piece\\Bathroom};
\node[lab] (lD) at (335,697) {In-Unit\\Laundry};
\node[lab] (lE) at (1896,642) {Bedroom};
\node[lab] (lF) at (741,1000) {4-Piece\\Bathroom};
\node[lab] (lG) at (1047,990) {Demising Wall};
\node[lab] (lH) at (1334,1000) {4-Piece\\Bathroom};
\node[lab] (lI) at (398,1300) {Shared Garbage};
\node[lab] (lJ) at (1053,1300) {Demising Wall};
\node[lab] (lK) at (1274,1299) {Deck};
\node[lab] (lL) at (1903,1920) {Rear Addition};
\node[lab] (lM) at (659,2256) {Deck};
\node[lab] (lN) at (967,2256) {Deck};
\node[lab] (lO) at (1295,2256) {Kitchen};
% connector ends
\coordinate (tA) at (743.5,460);
\coordinate (tB) at (990,460);
\coordinate (tC) at (1238,460);
\coordinate (tD) at (869,480);
\coordinate (tE) at (1390,519);
\coordinate (kF) at (741,714);
\coordinate (tF) at (977,587);
\coordinate (tG) at (1044,593);
\coordinate (kH) at (1334,714);
\coordinate (tH) at (1146,560);
\coordinate (tI) at (398,1762);
\coordinate (tJ) at (1051,1640);
\coordinate (tK) at (1273,1640);
\coordinate (tL) at (1463,1795);
\coordinate (tM) at (659,1869);
\coordinate (kN) at (967,1983);
\coordinate (tN) at (1077,1889);
\coordinate (tO) at (1292,1885);
\draw[arr=cyel] (bedA.south)--(tA);
\draw[arr=cyel] (bedB.south)--(tB);
\draw[arr=cyel] (tubA.south)--(tC);
\draw[arr=cyel] (wash.east)-|(tD);
\draw[arr=cyel] (bedR.west)--(tE);
\draw[arr=cyel] (tubB.north)--(kF)-|(tF);
\draw[arr=cora] (wallA.north)--(tG);
\draw[arr=cyel] (bedC.north)--(kH)-|(tH);
\draw[arr=cgrn] (bin.south)--(tI);
\draw[arr=cora] (wallB.south)--(tJ);
\draw[arr=ccor] (deckA.south)--(tK);
\draw[arr=cgrn] (rear.west)--(tL);
\draw[arr=ccor] (deckB.north)--(tM);
\draw[arr=ccor] (deckC.north)--(kN)-|(tN);
\draw[arr=cyel] (kit.north)--(tO);
\end{tikzpicture}
\end{document}
